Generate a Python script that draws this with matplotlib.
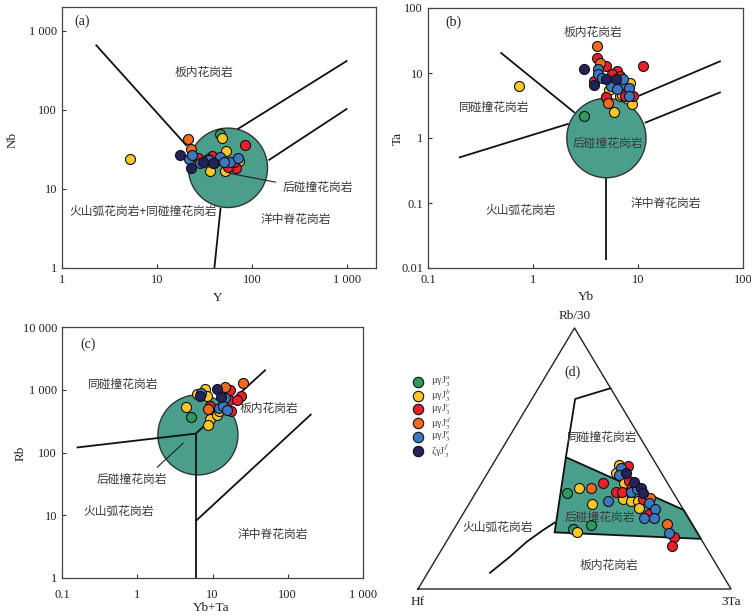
import numpy as np
import matplotlib
matplotlib.use("Agg")
import matplotlib.pyplot as plt

plt.rcParams['mathtext.fontset'] = 'stix'

CJK = ['Noto Sans CJK SC', 'DejaVu Sans']
SERIF = 'Liberation Serif'
TXT = '#3a3a3a'
FIELD = '#4a9f8c'

groups = ['a', 'b', 'c', 'd', 'e', 'f']
colors = ['#2e9a5e', '#fdc72a', '#e8202a', '#f06a22', '#3a78c2', '#23235a']
legend_labels = ['μγJ$_3^{a}$', 'μγJ$_3^{b}$', 'μγJ$_3^{c}$',
                 'μγJ$_3^{d}$', 'μγJ$_3^{e}$', 'ζγJ$_3^{f}$']

# (a) Y - Nb
a_y = {
    'a': [46],
    'b': [5.2, 48, 36, 52, 53, 72],
    'c': [84, 68, 27, 38, 34, 55, 65],
    'd': [21, 22.6],
    'e': [21.4, 23.2, 46, 57.7, 70, 28, 40, 50, 35],
    'f': [17.2, 22.8, 30.7, 39],
}
a_nb = {
    'a': [49],
    'b': [24, 44.5, 16.7, 16.7, 30, 22.4],
    'c': [36, 18.5, 24.5, 26, 24, 19, 22],
    'd': [43, 31.6],
    'e': [24, 26.5, 25.7, 21.8, 24.8, 21, 21, 22, 23],
    'f': [26.7, 18.5, 21.8, 21.4],
}

# (b) Yb - Ta
b_yb = {
    'a': [3.07, 5.0],
    'b': [0.73, 8.4, 6.8, 8.7, 5.28, 5.93, 7.0],
    'c': [4.03, 4.94, 3.8, 6.3, 5.6, 6.7, 9.0, 7.5, 4.94, 11.1],
    'd': [4.08, 4.33, 5.2],
    'e': [4.17, 4.17, 6.98, 5.48, 6.3, 7.2, 8.2, 8.2, 4.5],
    'f': [3.07, 3.8, 5.0, 6.15],
}
b_ta = {
    'a': [2.16, 4.2],
    'b': [6.2, 7.1, 4.4, 3.3, 5.5, 2.5, 4.6],
    'c': [16.9, 12.6, 7.5, 10.7, 9.55, 9.0, 4.4, 4.5, 4.3, 12.8],
    'd': [26.2, 14.5, 3.5],
    'e': [11.4, 9.55, 6.7, 6.2, 5.6, 8.0, 5.9, 4.4, 8.5],
    'f': [11.4, 6.45, 8.2, 8.0],
}

# (c) Yb+Ta - Rb
c_ybta = {
    'a': [5.2],
    'b': [4.5, 6.15, 7.85, 8.35, 9.2, 8.7, 11.6, 12.2],
    'c': [9.2, 17, 16.5, 23.6, 20.9, 17.4],
    'd': [8.7, 14.5, 25.7],
    'e': [6.95, 14.5, 12.2, 13.9, 15.4],
    'f': [6.8, 11.6, 13.1],
}
c_rb = {
    'a': [367],
    'b': [530, 863, 1025, 800, 341, 277, 399, 451],
    'c': [556, 975, 692, 802, 675, 451],
    'd': [492, 1105, 1280],
    'e': [885, 738, 511, 556, 468],
    'f': [782, 1025, 765],
}

# (d) ternary Rb/30 - Hf - 3Ta (%)
d_rb = {
    'a': [36.7, 22.9, 24.5],
    'b': [47.5, 44.6, 40.7, 38.6, 34.4, 33.7, 33.8, 32.5, 30.9, 21.7],
    'c': [47.1, 41.4, 39.2, 40.5, 37.0, 37.0, 34.5, 28.7, 19.8, 16.6],
    'd': [38.8, 34.8, 24.9],
    'e': [46.2, 43.7, 37.0, 38.2, 33.1, 33.7, 30.5, 27.1, 27.1, 21.6],
    'f': [44.3, 41.1, 38.6, 36.7],
}
d_ta = {
    'a': [29.2, 38.2, 43.1],
    'b': [40.5, 41.0, 45.5, 32.2, 48.4, 51.2, 53.5, 39.3, 55.0, 39.9],
    'c': [43.5, 46.8, 48.7, 39.0, 44.7, 46.8, 54.6, 59.3, 71.9, 72.8],
    'd': [35.8, 56.7, 67.1],
    'e': [41.7, 42.5, 49.6, 51.0, 57.1, 43.7, 60.6, 58.8, 61.7, 69.5],
    'f': [44.4, 48.5, 51.8, 53.5],
}

fig = plt.figure(figsize=(7.51, 6.15), dpi=100)


def style_log(ax, xlim, ylim, xticks, xlabels, yticks, ylabels, xlabel, ylabel,
              xlab_pos, ylab_pos, xpad=4):
    ax.set_xscale('log')
    ax.set_yscale('log')
    ax.set_xlim(*xlim)
    ax.set_ylim(*ylim)
    ax.set_xticks(xticks)
    ax.set_xticklabels(xlabels)
    ax.set_yticks(yticks)
    ax.set_yticklabels(ylabels)
    ax.minorticks_off()
    ax.tick_params(direction='in', length=3, width=0.8, color='#333',
                   labelsize=9, labelcolor='#222')
    ax.tick_params(axis='x', pad=xpad)
    for lab in ax.get_xticklabels() + ax.get_yticklabels():
        lab.set_family(SERIF)
    for s in ax.spines.values():
        s.set_color('#444')
        s.set_linewidth(0.9)
    ax.set_xlabel(xlabel, family=SERIF, fontsize=9.5, color='#222', va='center')
    ax.set_ylabel(ylabel, family=SERIF, fontsize=9.5, color='#222', va='center')
    ax.xaxis.set_label_coords(*xlab_pos)
    ax.yaxis.set_label_coords(*ylab_pos)


def log_circle(ax, cx, cy, rx, ry):
    t = np.linspace(0, 2 * np.pi, 300)
    x = 10 ** (np.log10(cx) + rx * np.cos(t))
    y = 10 ** (np.log10(cy) + ry * np.sin(t))
    ax.fill(x, y, fc=FIELD, ec='#333', lw=1.0, zorder=1)


def seg(ax, xs, ys):
    ax.plot(xs, ys, color='#111', lw=1.3, zorder=2, solid_capstyle='butt')


def label(ax, x, y, s, **kw):
    ax.text(x, y, s, family=CJK, fontsize=8.5, color=TXT, ha='center', va='center', zorder=4, **kw)


def scatter_groups(ax, xd, yd):
    for g, col in zip(groups, colors):
        ax.scatter(xd[g], yd[g], s=52, c=col, edgecolors='#111', linewidths=0.8, zorder=3)


# ---------------- (a)
ax = fig.add_axes([62 / 751, 1 - 268 / 615, 314 / 751, 261 / 615])
style_log(ax, (1, 2000), (1, 2000), [1, 10, 100, 1000], ['1', '10', '100', '1 000'],
          [1, 10, 100, 1000], ['1', '10', '100', '1 000'], 'Y', 'Nb',
          (0.497, -0.115), (-0.156, 0.49))
log_circle(ax, 55.5, 18.5, 0.416, 0.502)
seg(ax, [2.26, 20.5], [668, 35])
seg(ax, [70, 1000], [57, 420])
seg(ax, [148, 1000], [23, 104])
seg(ax, [40, 46.5], [1, 5.8])
ax.plot([54, 175], [16, 12.2], color='#222', lw=0.8, zorder=2)
scatter_groups(ax, a_y, a_nb)
ax.text(0.04, 0.945, '(a)', transform=ax.transAxes, family=SERIF, fontsize=10, color='#222', va='center')
label(ax, 30.7, 298, '板内花岗岩')
label(ax, 7.2, 5.2, '火山弧花岗岩+同碰撞花岗岩')
label(ax, 290, 4.07, '洋中脊花岗岩')
label(ax, 490, 10.5, '后碰撞花岗岩')

# ---------------- (b)
ax = fig.add_axes([428 / 751, 1 - 268 / 615, 315 / 751, 260 / 615])
style_log(ax, (0.1, 100), (0.01, 100), [0.1, 1, 10, 100], ['0.1', '1', '10', '100'],
          [0.01, 0.1, 1, 10, 100], ['0.01', '0.1', '1', '10', '100'], 'Yb', 'Ta',
          (0.503, -0.112), (-0.095, 0.5))
log_circle(ax, 5.0, 1.0, 0.377, 0.611)
seg(ax, [0.49, 2.5], [20.7, 2.44])
seg(ax, [0.197, 2.19], [0.5, 1.66])
seg(ax, [10, 61.4], [4.4, 15.3])
seg(ax, [11.6, 61.4], [1.71, 5.08])
seg(ax, [5.0, 5.0], [0.24, 0.0134])
scatter_groups(ax, b_yb, b_ta)
ax.text(0.055, 0.945, '(b)', transform=ax.transAxes, family=SERIF, fontsize=10, color='#222', va='center')
label(ax, 3.69, 42.2, '板内花岗岩')
label(ax, 0.43, 2.9, '同碰撞花岗岩')
label(ax, 5.2, 0.82, '后碰撞花岗岩')
label(ax, 0.76, 0.078, '火山弧花岗岩')
label(ax, 18.5, 0.1, '洋中脊花岗岩')

# ---------------- (c)
ax = fig.add_axes([62 / 751, 1 - 578 / 615, 301 / 751, 251 / 615])
style_log(ax, (0.1, 1000), (1, 10000), [0.1, 1, 10, 100, 1000], ['0.1', '1', '10', '100', '1 000'],
          [1, 10, 100, 1000, 10000], ['1', '10', '100', '1 000', '10 000'], 'Yb+Ta', 'Rb',
          (0.497, -0.118), (-0.137, 0.498), xpad=8)
log_circle(ax, 6.4, 191, 0.532, 0.638)
seg(ax, [0.156, 6], [120, 200])
seg(ax, [6, 50.9], [200, 2085])
seg(ax, [6, 6], [200, 1])
seg(ax, [6, 206], [8.1, 410])
ax.plot([1.85, 4.09], [58.5, 141], color='#222', lw=0.8, zorder=2)
scatter_groups(ax, c_ybta, c_rb)
ax.text(0.06, 0.93, '(c)', transform=ax.transAxes, family=SERIF, fontsize=10, color='#222', va='center')
label(ax, 0.65, 1202, '同碰撞花岗岩')
label(ax, 56.2, 511, '板内花岗岩')
label(ax, 0.84, 36.7, '后碰撞花岗岩')
label(ax, 0.57, 11.5, '火山弧花岗岩')
label(ax, 62.4, 4.87, '洋中脊花岗岩')

# ---------------- (d) ternary
ax = fig.add_axes([418 / 751, 26 / 615, 313 / 751, 261 / 615])
ax.set_xlim(0, 1)
ax.set_ylim(0, 1)
ax.axis('off')


def tern(rb, ta):
    rb = np.asarray(rb, float) / 100
    ta = np.asarray(ta, float) / 100
    return ta + 0.5 * rb, rb


# boundaries as (Rb/30 %, 3Ta %)
syn_line_rb = [76.9, 72.8, 50.5]
syn_line_ta = [23.0, 13.8, 22.0]
post_rb = [50.5, 30.3, 19.2, 21.7, 50.5]
post_ta = [22.0, 69.7, 80.8, 32.8, 22.0]
vag_rb = [25.4, 22.6, 18.1, 12.4, 6.2]
vag_ta = [30.9, 28.7, 25.7, 23.2, 19.9]

tx, ty = tern([0, 0, 100, 0], [0, 100, 0, 0])
ax.plot(tx, ty, color='#222', lw=1.0, clip_on=False, zorder=2)
px, py = tern(post_rb, post_ta)
ax.fill(px, py, fc=FIELD, ec='#111', lw=1.3, zorder=1)
sx, sy = tern(syn_line_rb, syn_line_ta)
ax.plot(sx, sy, color='#111', lw=1.3, zorder=2)
vx, vy = tern(vag_rb, vag_ta)
ax.plot(vx, vy, color='#111', lw=1.3, zorder=2)

for g, col in zip(groups, colors):
    x, y = tern(d_rb[g], d_ta[g])
    ax.scatter(x, y, s=52, c=col, edgecolors='#111', linewidths=0.8, zorder=3)

ax.text(0.5, 1.045, 'Rb/30', family=SERIF, fontsize=9.5, color='#222', ha='center', va='center', clip_on=False)
ax.text(0.0, -0.05, 'Hf', family=SERIF, fontsize=9.5, color='#222', ha='center', va='center', clip_on=False)
ax.text(1.0, -0.05, '3Ta', family=SERIF, fontsize=9.5, color='#222', ha='center', va='center', clip_on=False)
ax.text(0.495, 0.83, '(d)', family=SERIF, fontsize=10, color='#222', ha='center', va='center')
label(ax, 0.59, 0.58, '同碰撞花岗岩')
label(ax, 0.58, 0.275, '后碰撞花岗岩')
label(ax, 0.255, 0.235, '火山弧花岗岩')
label(ax, 0.61, 0.09, '板内花岗岩')

# hand-placed legend (fixed row spacing)
for i, (col, lab) in enumerate(zip(colors, legend_labels)):
    yy = 0.794 - i * 0.053
    ax.scatter([0.0], [yy], s=56, c=col, edgecolors='#111', linewidths=0.8, clip_on=False, zorder=3)
    ax.text(0.04, yy, lab, family=SERIF, fontsize=7.5, color='#444', va='center', ha='left')

fig.savefig('out.png', dpi=100)
